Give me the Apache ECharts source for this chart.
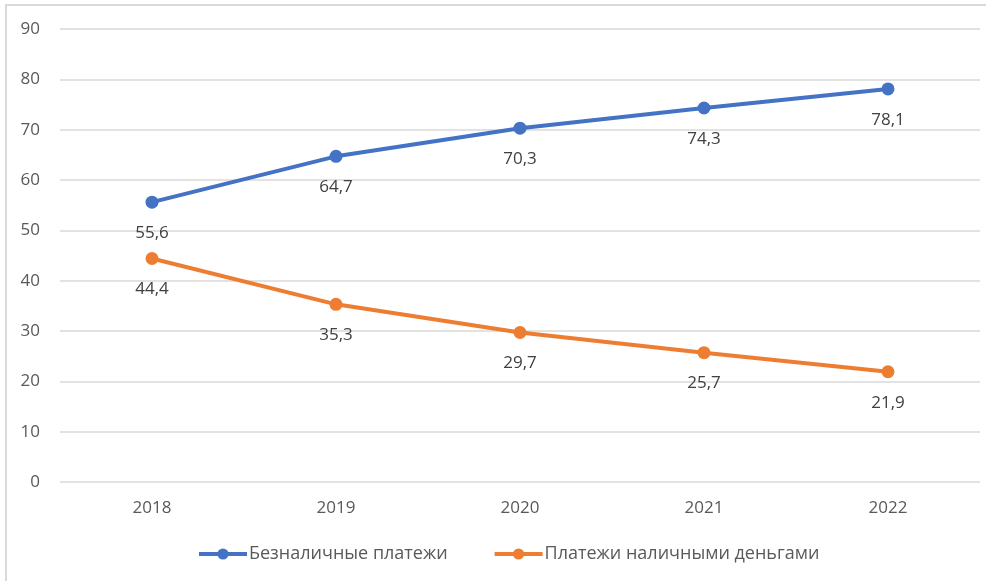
<!DOCTYPE html>
<html>
<head>
<meta charset="utf-8">
<script src="https://cdn.jsdelivr.net/npm/echarts@6/dist/echarts.min.js"></script>
<style>
  html, body { margin: 0; padding: 0; background: #fff; }
  #frame { position: absolute; left: 5px; top: 4px; width: 990px; height: 590px;
           border-left: 2px solid #d9d9d9; border-top: 2px solid #d9d9d9; }
  #chart { position: absolute; left: 0; top: 0; width: 986px; height: 581px; }
</style>
</head>
<body>
<div id="frame"></div>
<div id="chart"></div>
<script>
var years = ['2018', '2019', '2020', '2021', '2022'];
var cashless = [55.6, 64.7, 70.3, 74.3, 78.1];
var cash = [44.4, 35.3, 29.7, 25.7, 21.9];
var seriesNames = ['Безналичные платежи', 'Платежи наличными деньгами'];

var font = '"Open Sans", "Noto Sans", sans-serif';
var chart = echarts.init(document.getElementById('chart'));

function lineSeries(name, data, color) {
    return {
        name: name,
        type: 'line',
        data: data,
        symbol: 'circle',
        symbolSize: 13,
        lineStyle: { width: 4, color: color },
        itemStyle: { color: color },
        label: {
            show: true,
            position: 'bottom',
            distance: 16,
            color: '#404040',
            fontSize: 17,
            fontFamily: font,
            formatter: function (p) { return String(p.value).replace('.', ','); }
        },
        animation: false
    };
}

var option = {
    grid: { left: 60, right: 6, top: 29, bottom: 99 },
    legend: {
        top: 545,
        left: 197,
        padding: 0,
        itemWidth: 48,
        itemHeight: 14,
        itemGap: 45,
        lineStyle: { width: 4 },
        textStyle: { color: '#595959', fontSize: 18, fontFamily: font, padding: [0, 0, 0, -3] },
        data: seriesNames
    },
    xAxis: {
        type: 'category',
        data: years,
        axisLine: { show: false },
        axisTick: { show: false },
        axisLabel: { color: '#595959', fontSize: 17, fontFamily: font, margin: 18 }
    },
    yAxis: {
        type: 'value',
        min: 0,
        max: 90,
        interval: 10,
        axisLine: { show: false },
        axisTick: { show: false },
        axisLabel: { color: '#595959', fontSize: 17, fontFamily: font, margin: 20 },
        splitLine: { lineStyle: { color: '#d9d9d9', width: 1.5 } }
    },
    series: [
        lineSeries(seriesNames[0], cashless, '#4472C4'),
        lineSeries(seriesNames[1], cash, '#ED7D31')
    ]
};
chart.setOption(option);
</script>
</body>
</html>
